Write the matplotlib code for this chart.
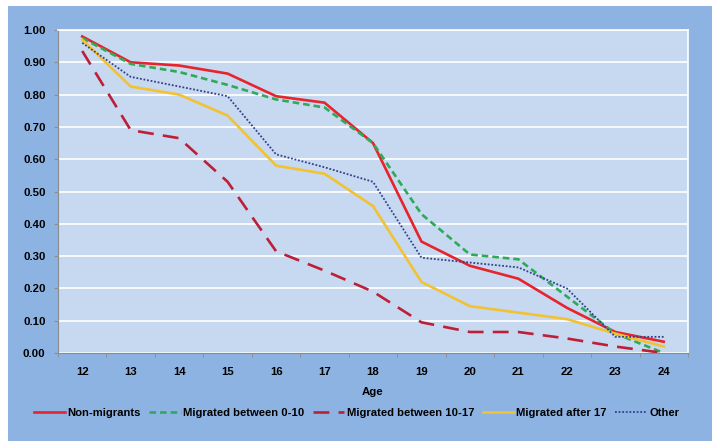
import numpy as np
import matplotlib.pyplot as plt
from matplotlib.patches import Rectangle

ages = [12, 13, 14, 15, 16, 17, 18, 19, 20, 21, 22, 23, 24]
non_migrants = [0.98, 0.90, 0.89, 0.865, 0.795, 0.775, 0.65, 0.345, 0.27, 0.23, 0.14, 0.065, 0.035]
mig_0_10 = [0.975, 0.895, 0.87, 0.83, 0.785, 0.76, 0.65, 0.43, 0.305, 0.29, 0.175, 0.06, 0.0]
mig_10_17 = [0.935, 0.69, 0.665, 0.53, 0.315, 0.255, 0.19, 0.095, 0.065, 0.065, 0.045, 0.02, 0.0]
mig_after_17 = [0.97, 0.825, 0.80, 0.735, 0.58, 0.555, 0.455, 0.22, 0.145, 0.125, 0.105, 0.06, 0.02]
other = [0.96, 0.855, 0.825, 0.795, 0.615, 0.575, 0.53, 0.295, 0.28, 0.265, 0.20, 0.05, 0.05]

plt.rcParams['font.family'] = ['Liberation Sans', 'DejaVu Sans']
plt.rcParams['font.weight'] = 'bold'

fig = plt.figure(figsize=(7.12, 4.41), dpi=100)
fig.patch.set_facecolor('white')
# blue chart-area background, leaves a thin white strip at top and left
fig.patches.append(Rectangle((8 / 712, 0), 1 - 8 / 712, 1 - 6 / 441,
                             transform=fig.transFigure, facecolor='#8DB3E2',
                             edgecolor='none', zorder=-5))

ax = fig.add_axes([58 / 712, 1 - 353 / 441, 630 / 712, 323 / 441])
ax.set_facecolor('#C6D9F0')

x = np.arange(len(ages))
ax.plot(x, non_migrants, color='#E8232B', lw=1.9, label='Non-migrants')
ax.plot(x, mig_0_10, color='#2EAA58', lw=1.9, ls=(0, (2.5, 1.5)), label='Migrated between 0-10')
ax.plot(x, mig_10_17, color='#BE1E36', lw=1.9, ls=(0, (6, 3.5)), label='Migrated between 10-17')
ax.plot(x, mig_after_17, color='#F2C233', lw=1.9, label='Migrated after 17')
ax.plot(x, other, color='#34408C', lw=1.3, ls=(0, (1, 1)), label='Other')

ax.set_xlim(-0.5, len(ages) - 0.5)
ax.set_ylim(0, 1)
ax.set_yticks(np.arange(0, 1.01, 0.1))
ax.set_yticklabels(['%.2f' % v for v in np.arange(0, 1.01, 0.1)], fontsize=8.2, fontweight='bold')
ax.set_xticks(x)
ax.set_xticklabels([str(a) for a in ages], fontsize=8.2, fontweight='bold')
ax.set_xticks(np.arange(-0.5, len(ages), 1), minor=True)
ax.tick_params(axis='x', which='major', length=0, pad=10)
ax.tick_params(axis='x', which='minor', length=3, color='#8C8C8C')
ax.tick_params(axis='y', length=3, color='#8C8C8C', pad=6)
ax.grid(axis='y', color='white', lw=1.2)
ax.set_axisbelow(True)
for s in ['top', 'right']:
    ax.spines[s].set_color('white')
    ax.spines[s].set_linewidth(1.2)
ax.spines['left'].set_color('#8C8C8C')
ax.spines['bottom'].set_color('#8C8C8C')

ax.set_xlabel('Age', fontsize=8.2, fontweight='bold', labelpad=7)

fig.legend(loc='center', bbox_to_anchor=(0.5007, 1 - 413 / 441), ncol=5, frameon=False,
           fontsize=8.1, handlelength=2.8, handletextpad=0.2, columnspacing=0.75)

fig.savefig('out.png', dpi=100)
